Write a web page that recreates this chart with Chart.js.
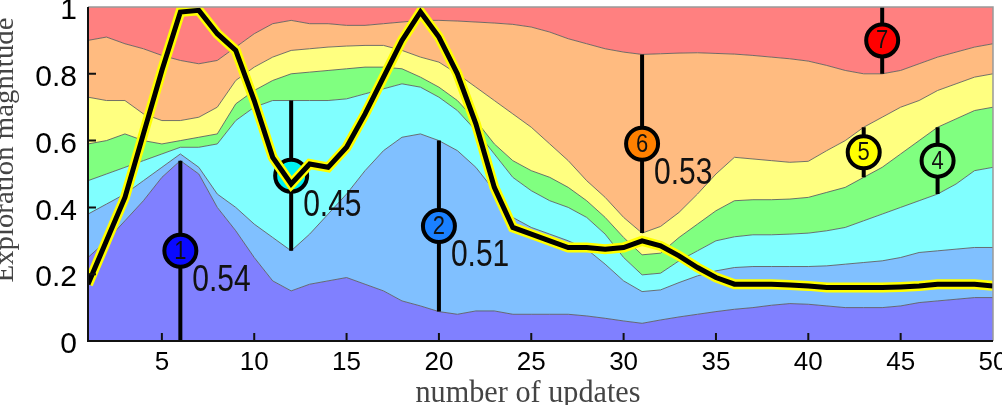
<!DOCTYPE html>
<html lang="en">
<head>
<meta charset="UTF-8">
<title>Exploration magnitude</title>
<script src="https://cdn.jsdelivr.net/npm/chart.js"></script>
<style>
    html, body { margin: 0; padding: 0; background: #fff; }
    #wrap { width: 1002px; height: 405px; position: relative; }
</style>
</head>
<body>
<div id="wrap"><canvas id="chart"></canvas></div>
<script>
// number of updates (x)
const updates = [1,2,3,4,5,6,7,8,9,10,11,12,13,14,15,16,17,18,19,20,21,22,23,24,25,
                 26,27,28,29,30,31,32,33,34,35,36,37,38,39,40,41,42,43,44,45,46,47,48,49,50];

// upper edge of each stacked layer (cumulative), bottom to top
const purpleTop = [0.25,0.30,0.36,0.42,0.49,0.54,0.50,0.40,0.33,0.25,
                   0.18,0.15,0.17,0.18,0.19,0.17,0.15,0.12,0.105,0.088,
                   0.08,0.09,0.09,0.08,0.08,0.08,0.08,0.075,0.068,0.06,
                   0.053,0.063,0.072,0.08,0.088,0.095,0.10,0.107,0.112,0.11,
                   0.105,0.10,0.10,0.10,0.105,0.115,0.12,0.125,0.13,0.13];
const blueTop   = [0.38,0.41,0.44,0.48,0.52,0.56,0.52,0.44,0.40,0.35,
                   0.31,0.27,0.32,0.38,0.44,0.51,0.57,0.61,0.62,0.60,
                   0.57,0.52,0.45,0.37,0.34,0.32,0.30,0.275,0.23,0.18,
                   0.148,0.153,0.175,0.195,0.21,0.22,0.223,0.223,0.223,0.223,
                   0.225,0.23,0.235,0.24,0.25,0.265,0.27,0.275,0.28,0.28];
const cyanTop   = [0.48,0.50,0.52,0.54,0.56,0.58,0.58,0.59,0.66,0.70,
                   0.72,0.72,0.72,0.72,0.725,0.74,0.755,0.77,0.76,0.73,
                   0.69,0.63,0.56,0.49,0.45,0.42,0.40,0.37,0.32,0.25,
                   0.198,0.203,0.24,0.27,0.30,0.312,0.318,0.318,0.32,0.323,
                   0.33,0.34,0.36,0.38,0.40,0.42,0.44,0.47,0.51,0.52];
const greenTop  = [0.59,0.60,0.62,0.60,0.59,0.60,0.61,0.62,0.71,0.75,
                   0.78,0.80,0.805,0.81,0.815,0.82,0.82,0.815,0.79,0.76,
                   0.72,0.66,0.59,0.54,0.51,0.49,0.46,0.42,0.37,0.31,
                   0.258,0.263,0.31,0.35,0.39,0.42,0.423,0.423,0.425,0.43,
                   0.445,0.46,0.49,0.52,0.56,0.60,0.64,0.665,0.69,0.70];
const yellowTop = [0.73,0.72,0.72,0.68,0.66,0.66,0.67,0.70,0.78,0.82,
                   0.85,0.87,0.875,0.88,0.883,0.885,0.885,0.87,0.85,0.835,
                   0.80,0.76,0.72,0.68,0.64,0.59,0.54,0.48,0.43,0.37,
                   0.323,0.343,0.385,0.44,0.50,0.55,0.545,0.54,0.535,0.538,
                   0.57,0.60,0.64,0.67,0.70,0.72,0.75,0.77,0.79,0.80];
const orangeTop = [0.90,0.91,0.89,0.875,0.855,0.84,0.83,0.84,0.88,0.92,
                   0.95,0.96,0.95,0.95,0.945,0.945,0.95,0.955,0.96,0.96,
                   0.958,0.955,0.952,0.948,0.94,0.925,0.905,0.89,0.875,0.865,
                   0.858,0.86,0.862,0.863,0.861,0.859,0.855,0.85,0.845,0.838,
                   0.825,0.81,0.80,0.80,0.81,0.83,0.85,0.865,0.88,0.89];

// total exploration magnitude (thick line)
const explore = [0.17,0.30,0.43,0.62,0.81,0.985,0.99,0.92,0.87,0.72,
                 0.55,0.47,0.53,0.52,0.58,0.68,0.79,0.90,0.985,0.91,
                 0.80,0.65,0.46,0.34,0.32,0.30,0.28,0.28,0.275,0.28,
                 0.30,0.285,0.255,0.22,0.19,0.17,0.17,0.17,0.168,0.165,
                 0.16,0.16,0.16,0.16,0.162,0.165,0.17,0.17,0.17,0.165];

const xTicks = [5,10,15,20,25,30,35,40,45,50];
const yTicks = [0,0.2,0.4,0.6,0.8,1];
const yTickLabels = ['0','0.2','0.4','0.6','0.8','1'];

// one marker per layer: where it sits and what is printed
const markerAt   = [6, 20, 12, 47, 43, 31, 44];
const markerNum  = ['1','2','','4','5','6','7'];
const markerText = ['0.54','0.51','0.45','','','0.53',''];

const layerTops = [purpleTop, blueTop, cyanTop, greenTop, yellowTop, orangeTop];
const layerFill = ['#8080ff','#80c0ff','#80ffff','#80ff80','#ffff80','#ffbb80','#ff8080'];
const markerFill = ['#0a0aff','#1a80ff','#00f0f0','#80ff80','#ffff00','#ff8000','#ff0000'];

const SANS = "'Liberation Sans', Arial, sans-serif";
const SERIF = "'Liberation Serif', 'Times New Roman', serif";

function pts(arr) { return updates.map((u, i) => ({x: u, y: arr[i]})); }

const datasets = layerTops.map((arr, k) => ({
    data: pts(arr),
    backgroundColor: layerFill[k],
    borderColor: 'rgba(90,90,90,0.85)',
    borderWidth: 1,
    fill: k === 0 ? 'origin' : '-1',
    pointRadius: 0,
    order: 2
}));
// red layer: from the orange edge up to the top of the plot
datasets.push({
    data: pts(orangeTop),
    backgroundColor: layerFill[6],
    borderWidth: 0,
    fill: 'end',
    pointRadius: 0,
    order: 3
});
datasets.push({ data: pts(explore), borderColor: '#ffff00', borderWidth: 10, fill: false, pointRadius: 0, order: 1, clip: 0 });
datasets.push({ data: pts(explore), borderColor: '#000000', borderWidth: 5, fill: false, pointRadius: 0, order: 0, clip: 0 });

function edge(k, i) {
    if (k === 0) return 0;
    if (k === 7) return 1;
    return layerTops[k - 1][i];
}

const decor = {
    id: 'decor',
    beforeDatasetDraw(chart, args) {
        if (args.index !== 7) return;
        const {ctx, scales: {x, y}} = chart;
        ctx.save();
        markerAt.forEach((u, k) => {
            const i = updates.indexOf(u);
            const lo = edge(k, i), hi = edge(k + 1, i);
            const px = x.getPixelForValue(u);
            const py = y.getPixelForValue((lo + hi) / 2);
            ctx.strokeStyle = '#000';
            ctx.lineWidth = 4;
            ctx.beginPath();
            ctx.moveTo(px, y.getPixelForValue(lo));
            ctx.lineTo(px, y.getPixelForValue(hi));
            ctx.stroke();
            ctx.beginPath();
            ctx.arc(px, py, 16, 0, Math.PI * 2);
            ctx.fillStyle = markerFill[k];
            ctx.fill();
            ctx.lineWidth = 4;
            ctx.stroke();
            ctx.fillStyle = '#111';
            ctx.textAlign = 'center';
            ctx.textBaseline = 'middle';
            if (markerNum[k]) {
                ctx.save();
                ctx.translate(px, py + 1);
                ctx.scale(1, 1.15);
                ctx.font = '22px ' + SANS;
                ctx.fillText(markerNum[k], 0, 0);
                ctx.restore();
            }
            if (markerText[k]) {
                ctx.save();
                ctx.translate(px + 12, py + 30);
                ctx.scale(1, 1.25);
                ctx.textAlign = 'left';
                ctx.font = '30px ' + SANS;
                ctx.fillText(markerText[k], 0, 0);
                ctx.restore();
            }
        });
        ctx.restore();
    },
    afterDatasetsDraw(chart) {
        const {ctx, chartArea: a, scales: {x, y}} = chart;
        ctx.save();
        ctx.strokeStyle = '#999';
        ctx.lineWidth = 1.5;
        ctx.beginPath();
        ctx.moveTo(a.left, a.top); ctx.lineTo(a.right, a.top); ctx.lineTo(a.right, a.bottom);
        ctx.stroke();
        ctx.strokeStyle = '#111';
        ctx.lineWidth = 2;
        ctx.beginPath();
        ctx.moveTo(a.left, a.top); ctx.lineTo(a.left, a.bottom); ctx.lineTo(a.right, a.bottom);
        ctx.stroke();
        ctx.beginPath();
        yTicks.slice(1, -1).forEach(v => {
            const py = y.getPixelForValue(v);
            ctx.moveTo(a.left, py); ctx.lineTo(a.left + 8, py);
        });
        xTicks.slice(0, -1).forEach(v => {
            const px = x.getPixelForValue(v);
            ctx.moveTo(px, a.bottom); ctx.lineTo(px, a.bottom - 8);
        });
        ctx.stroke();
        ctx.restore();
    },
    afterDraw(chart) {
        const {ctx} = chart;
        ctx.save();
        ctx.fillStyle = '#444';
        ctx.textAlign = 'center';
        ctx.textBaseline = 'alphabetic';
        ctx.font = '27px ' + SERIF;
        // x title, partly cut by the bottom edge
        let t = 'number of updates';
        let w = ctx.measureText(t).width;
        ctx.save();
        ctx.translate(528, 402);
        ctx.scale(225 / w, 1.15);
        ctx.fillText(t, 0, 0);
        ctx.restore();
        // y title, partly cut by the left edge
        t = 'Exploration magnitude';
        w = ctx.measureText(t).width;
        ctx.save();
        ctx.translate(13, 150);
        ctx.rotate(-Math.PI / 2);
        ctx.scale(265 / w, 1);
        ctx.fillText(t, 0, 0);
        ctx.restore();
        ctx.restore();
    }
};

new Chart(document.getElementById('chart'), {
    type: 'line',
    data: { datasets: datasets },
    options: {
        responsive: true,
        maintainAspectRatio: false,
        animation: false,
        layout: { padding: { top: 7, right: 9, left: 0, bottom: 0 } },
        plugins: {
            legend: { display: false },
            tooltip: { enabled: false },
            filler: { drawTime: 'beforeDatasetsDraw' }
        },
        scales: {
            x: {
                type: 'linear', min: 1, max: 50,
                afterBuildTicks: s => { s.ticks = xTicks.map(v => ({ value: v })); },
                afterFit: s => { s.height = 64; s.paddingLeft = 0; s.paddingRight = 0; },
                grid: { display: false, drawTicks: false },
                border: { display: false },
                ticks: { font: { family: SANS, size: 26 }, color: '#000', padding: 6, maxRotation: 0, autoSkip: false }
            },
            y: {
                min: 0, max: 1,
                afterBuildTicks: s => { s.ticks = yTicks.map(v => ({ value: v })); },
                afterFit: s => { s.width = 88; s.paddingTop = 0; s.paddingBottom = 0; },
                grid: { display: false, drawTicks: false },
                border: { display: false },
                ticks: {
                    font: { family: SANS, size: 30 }, color: '#000', padding: 11, labelOffset: 4,
                    callback: (v, i) => yTickLabels[i]
                }
            }
        }
    },
    plugins: [decor]
});
</script>
</body>
</html>
